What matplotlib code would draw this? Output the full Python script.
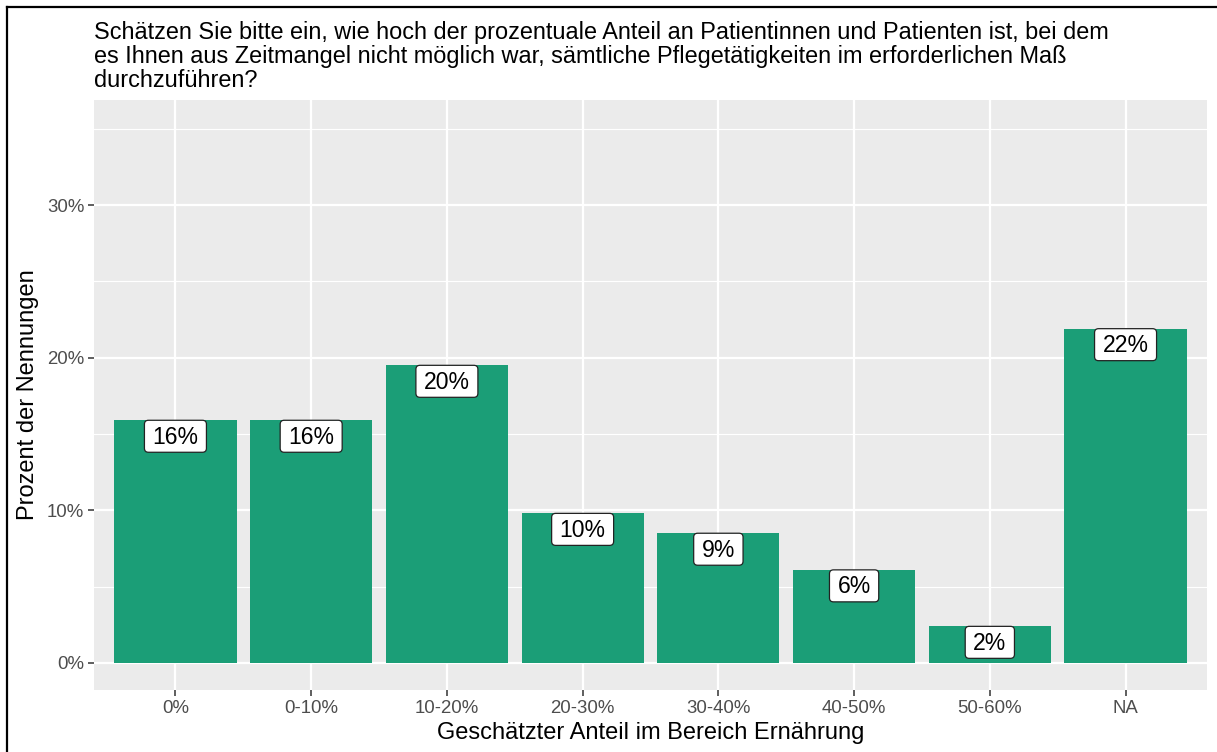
import matplotlib
matplotlib.use("Agg")
import matplotlib.pyplot as plt
from matplotlib.lines import Line2D
from matplotlib.patches import FancyBboxPatch
from matplotlib.transforms import IdentityTransform
import numpy as np

categories = ["0%", "0-10%", "10-20%", "20-30%", "30-40%", "40-50%", "50-60%", "NA"]
values = [15.9, 15.9, 19.5, 9.8, 8.5, 6.1, 2.4, 21.9]
labels = ["16%", "16%", "20%", "10%", "9%", "6%", "2%", "22%"]
y_ticks = [0, 10, 20, 30]
y_tick_labels = ["0%", "10%", "20%", "30%"]
y_minor = [5, 15, 25, 35]

title = ("Schätzen Sie bitte ein, wie hoch der prozentuale Anteil an Patientinnen und Patienten ist, bei dem\n"
         "es Ihnen aus Zeitmangel nicht möglich war, sämtliche Pflegetätigkeiten im erforderlichen Maß\n"
         "durchzuführen?")
xlabel = "Geschätzter Anteil im Bereich Ernährung"
ylabel = "Prozent der Nennungen"

plt.rcParams['font.family'] = ['Liberation Sans', 'DejaVu Sans']

W, H = 1217, 752
DPI = 100
fig = plt.figure(figsize=(W / DPI, H / DPI), dpi=DPI)
ax = fig.add_axes([94 / W, 1 - 690 / H, (1207 - 94) / W, (690 - 100) / H])
ax.set_facecolor("#EBEBEB")

x = np.arange(1, len(categories) + 1)
ax.set_xlim(0.4, len(categories) + 0.6)
ax.set_ylim(-1.77, 36.88)

# grid
for yv in y_minor:
    ax.axhline(yv, color="white", lw=0.8, zorder=0.5)
for yv in y_ticks:
    ax.axhline(yv, color="white", lw=1.6, zorder=0.6)
for xv in x:
    ax.axvline(xv, color="white", lw=1.6, zorder=0.6)

ax.bar(x, values, width=0.9, color="#1B9E77", zorder=2)

ax.set_xticks(x)
ax.set_xticklabels(categories)
ax.set_yticks(y_ticks)
ax.set_yticklabels(y_tick_labels)
ax.tick_params(axis="both", colors="#333333", length=4, width=1.1, labelsize=13.4,
               labelcolor="#4D4D4D", pad=3)
for s in ax.spines.values():
    s.set_visible(False)

ax.set_xlabel(xlabel, fontsize=17, color="black", labelpad=4)
ax.set_ylabel(ylabel, fontsize=17, color="black", labelpad=6)

fig.text(94 / W, 1 - 21 / H, title, ha="left", va="top", fontsize=16.9, color="black",
         linespacing=1.06)

# labels (geom_label style, top of box at bar top)
renderer = fig.canvas.get_renderer()
px2pt = 72.0 / DPI
box_h = 32.0
pad_x = 8.0
for xi, v, lab in zip(x, values, labels):
    t = ax.annotate(lab, xy=(xi, v), xytext=(0, -(box_h - 8.5) * px2pt),
                    textcoords="offset points", ha="center", va="baseline",
                    fontsize=16.6, color="black", zorder=4)
    bb = t.get_window_extent(renderer)
    top_x, top_y = ax.transData.transform((xi, v))
    w = bb.width + 2 * pad_x
    patch = FancyBboxPatch((top_x - w / 2, top_y - box_h), w, box_h,
                           boxstyle="round,pad=0,rounding_size=4",
                           fc="white", ec="#222222", lw=0.9,
                           transform=IdentityTransform(), zorder=3)
    ax.add_artist(patch)

# figure border (top and left)
fig.add_artist(Line2D([7 / W, 1], [1 - 6.5 / H, 1 - 6.5 / H], color="black", lw=1.6,
                      transform=fig.transFigure))
fig.add_artist(Line2D([7 / W, 7 / W], [0, 1 - 6.5 / H], color="black", lw=1.6,
                      transform=fig.transFigure))

fig.savefig("out.png", dpi=DPI)
